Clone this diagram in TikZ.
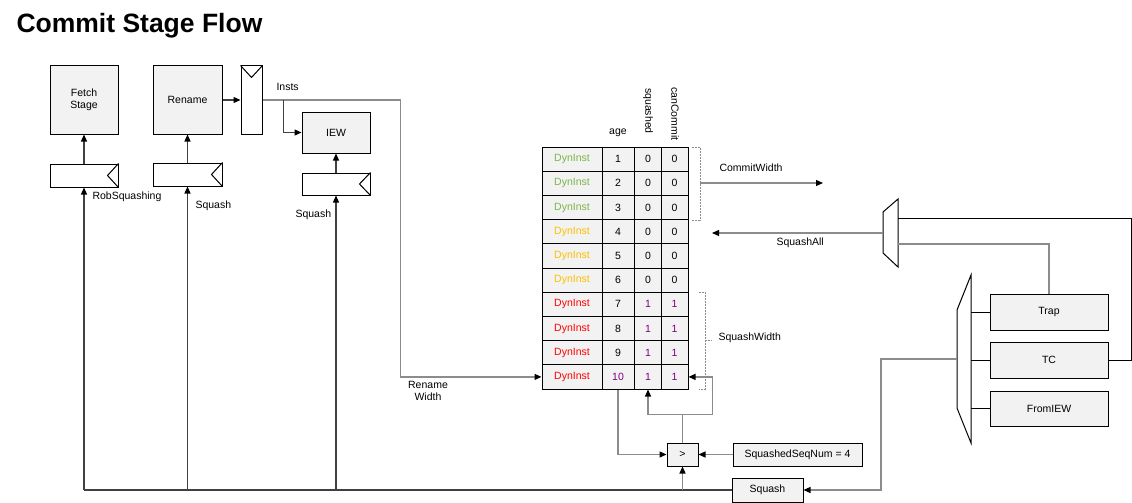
\documentclass[tikz,border=0pt]{standalone}
\usepackage{fontspec}
\setmainfont{Liberation Sans}
\usetikzlibrary{arrows.meta,calc,positioning}
\definecolor{cellgray}{HTML}{F2F2F2}
\definecolor{wiregray}{HTML}{8C8C8C}
\definecolor{busgray}{HTML}{404040}
\definecolor{okgreen}{HTML}{7AB648}
\definecolor{waityel}{HTML}{FFC000}
\definecolor{sqred}{HTML}{FF0000}
\definecolor{bitpurp}{HTML}{800080}
\def\clocknotch#1{\draw[line width=1pt] (#1.north east) -- ($(#1.east)+(-11,0)$) -- (#1.south east);}

\begin{document}
\begin{tikzpicture}[x=1pt,y=-1pt,font=\fontsize{10.5}{12}\selectfont,
  block/.style={draw,line width=1pt,fill=cellgray,inner sep=0pt,align=center},
  reg/.style={draw,line width=1pt,fill=white,inner sep=0pt},
  cell/.style={draw,line width=1pt,fill=cellgray,inner sep=0pt,minimum height=24.2pt},
  wire/.style={draw=wiregray,line width=1.2pt},
  arr/.style={wire,-{Triangle[length=7pt,width=6pt,color=black]}},
  bus/.style={draw=busgray,line width=1.6pt},
  brace/.style={draw=wiregray,line width=0.8pt,dash pattern=on 2pt off 1pt}]
  \useasboundingbox[fill=white] (0,0) rectangle (1132,503);
  \node[anchor=base west,font=\fontsize{26.5}{30}\selectfont\bfseries] (title) at (13,33) {Commit Stage Flow};

  % front-end stages and their squash registers
  \node[block,minimum width=68pt,minimum height=68pt] (fetch) at (84,100) {Fetch\\Stage};
  \node[block,minimum width=69pt,minimum height=68pt] (rename) at (187.5,100) {Rename};
  \node[reg,minimum width=21pt,minimum height=68pt] (instreg) at (251.5,100) {};
  \draw[line width=1pt] (instreg.north west) -- ($(instreg.north)+(0,12)$) -- (instreg.north east);
  \node[block,minimum width=68pt,minimum height=41pt] (iew) at (336,132.5) {IEW};
  \node[reg,minimum width=68pt,minimum height=23pt,below=29pt of fetch] (fetchreg) {};
  \node[reg,minimum width=69pt,minimum height=23pt,below=28pt of rename] (renamereg) {};
  \node[reg,minimum width=68pt,minimum height=22pt,below=19pt of iew] (iewreg) {};
  \clocknotch{fetchreg} \clocknotch{renamereg} \clocknotch{iewreg}
  \node[anchor=west] (robsq) at (89,197) {RobSquashing};
  \node[anchor=west] (rnsq) at (192,206) {Squash};
  \node[anchor=west] (iewsq) at (292,215) {Squash};

  % ROB table
  \foreach \i/\col/\agec/\bit/\bitc in {1/okgreen/black/0/black,2/okgreen/black/0/black,
      3/okgreen/black/0/black,4/waityel/black/0/black,5/waityel/black/0/black,
      6/waityel/black/0/black,7/sqred/black/1/bitpurp,8/sqred/black/1/bitpurp,
      9/sqred/black/1/bitpurp,10/sqred/bitpurp/1/bitpurp}{
    \node[cell,minimum width=60pt,text=\col] (dyn\i) at (572,{147+24.2*(\i-0.5)}) {DynInst};
    \node[cell,minimum width=32pt,text=\agec] (age\i) at (618,{147+24.2*(\i-0.5)}) {\i};
    \node[cell,minimum width=28pt,text=\bitc] (sq\i) at (648,{147+24.2*(\i-0.5)}) {\bit};
    \node[cell,minimum width=27pt,text=\bitc] (cc\i) at (674.5,{147+24.2*(\i-0.5)}) {\bit};
  }
  \draw[line width=1.8pt] (dyn1.north east) -- (dyn10.south east);
  \node (agehdr) at (618,133) {age};
  \node[rotate=-90,anchor=west,inner sep=0pt] (sqhdr) at (648,88) {squashed};
  \node[rotate=-90,anchor=west,inner sep=0pt] (cchdr) at (675,87) {canCommit};

  % commit / squash widths
  \draw[brace] (692,147) -- (700,147) -- (700,220) -- (692,220);
  \coordinate (cwin) at (700,183);
  \coordinate (cwout) at (823,183);
  \draw[arr] (cwin) -- (cwout);
  \node[anchor=west] (cwlbl) at (716,168) {CommitWidth};
  \draw[brace] (699,292) -- (705,292) -- (705,389) -- (699,389);
  \draw[brace] (705,340) -- (712,340);
  \node[anchor=west] (swlbl) at (715,338) {SquashWidth};

  % squash sources
  \node[block,minimum width=118pt,minimum height=36pt] (trap) at (1049,312) {Trap};
  \node[block,minimum width=118pt,minimum height=36pt,below=11pt of trap] (tc) {TC};
  \node[block,minimum width=118pt,minimum height=35pt,below=12pt of tc] (fromiew) {FromIEW};
  \draw[line width=1pt] (957,310) -- (971,275) -- (971,443) -- (957,408) -- cycle;
  \coordinate (selout) at (957,359);
  \foreach \s in {trap,tc,fromiew}
    \draw[line width=1pt] (\s.west) -- ++(-19,0);
  \draw[line width=1pt] (883,212) -- (898,199) -- (898,267) -- (883,253) -- cycle;
  \coordinate (allin1) at (898,218);
  \coordinate (allin2) at (898,244);
  \coordinate (allout) at (883,233);
  \coordinate (allend) at (712,233);
  \draw[line width=1pt] (tc.east) -- ++(23,0) |- (allin1);
  \draw[wire] (trap.north) |- (allin2);
  \draw[arr] (allout) -- (allend);
  \node[anchor=west] (salbl) at (773,243) {SquashAll};

  % compare logic
  \node[block,minimum width=31pt,minimum height=23pt] (cmp) at (682.5,454.5) {>};
  \node[block,minimum width=129pt,minimum height=23pt,right=34pt of cmp] (seqnum) {SquashedSeqNum = 4};
  \node[block,minimum width=71pt,minimum height=24pt] (sqbox) at (767.5,490) {Squash};
  \draw[arr] (seqnum) -- (cmp);
  \draw[arr] (age10.south) |- (cmp.west);
  \draw[arr] (cmp.north) -- ++(0,-28) -| (sq10.south);
  \draw[arr] (cmp.north) -- ++(0,-28) -- ++(30,0) |- (cc10.east);
  \draw[arr] (selout) -- ++(-76,0) |- (sqbox.east);

  % squash bus back to the front end
  \draw[bus] (sqbox.west) -- (fetchreg.south |- sqbox.west);
  \draw[arr] (cmp.south |- sqbox.west) -- (cmp.south);
  \foreach \r in {fetchreg,renamereg,iewreg}
    \draw[arr,draw=busgray] (\r.south |- sqbox.west) -- (\r.south);
  \draw[arr,draw=busgray] (fetchreg) -- (fetch);
  \draw[arr,draw=busgray] (renamereg) -- (rename);
  \draw[arr,draw=busgray] (iewreg) -- (iew);

  % instructions from rename
  \draw[arr,draw=busgray] (rename) -- (instreg);
  \draw[arr] (instreg.east) -- ++(138,0) |- (dyn10.west);
  \draw[arr,draw=busgray] ($(instreg.east)+(21,0)$) |- (iew.west);
  \node[anchor=west] (instlbl) at (273,87) {Insts};
  \node[align=center] (rwlbl) at (428,391) {Rename\\Width};
\end{tikzpicture}
\end{document}
